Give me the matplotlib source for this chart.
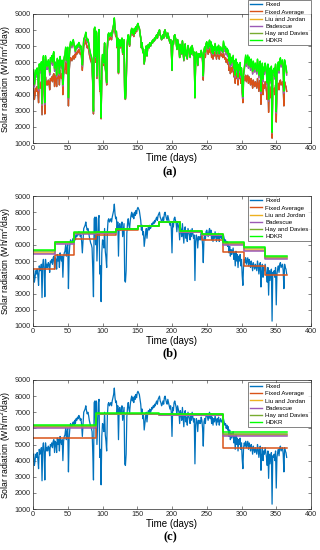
import matplotlib
matplotlib.use("Agg")
import matplotlib.pyplot as plt
import numpy as np

plt.rcParams['font.family'] = ['Liberation Sans', 'DejaVu Sans']

# daily radiation on the fixed surface (Wh/m2/day)
fixed = [
    4400, 3700, 4000, 4400, 4200, 4500, 4100, 3500, 4700, 4400,
    4500, 4800, 2750, 4800, 5100, 4500, 2800, 5100, 4600, 4800,
    4600, 4900, 4800, 4300, 5000, 4900, 5100, 4800, 5200, 5300,
    4500, 5200, 5100, 4500, 5400, 5000, 5300, 4600, 5500, 5200,
    5000, 5300, 4000, 5200, 5500, 5600, 6000, 5300, 5800, 6000,
    3300, 5400, 6000, 6300, 6200, 6100, 6300, 6400, 6200, 6500,
    6300, 6600, 6500, 6700, 6600, 6800, 6700, 6500, 6600, 6200,
    5500, 6300, 7000, 7100, 7200, 7400, 7100, 6900, 7000, 6800,
    6500, 6300, 6100, 6000, 5800, 4500, 2800, 7600, 7700, 6000,
    7700, 5000, 6300, 7600, 7800, 4200, 4700, 2500, 5500, 6300,
    6200, 5800, 7000, 5600, 5200, 4600, 6800, 7500, 7600, 7400,
    7500, 7600, 7400, 7700, 7900, 8100, 8500, 7900, 7600, 7700,
    6900, 7400, 5300, 7200, 7300, 6900, 7100, 7400, 6500, 6900,
    7300, 3800, 3700, 4400, 6700, 7300, 7600, 7200, 7000, 7500,
    7800, 8000, 7700, 7900, 7600, 8000, 7800, 8100, 7900, 8200,
    8300, 8200, 8100, 7800, 7500, 6900, 7200, 6600, 6800, 5900,
    6300, 6700, 7000, 6400, 6900, 7100, 6900, 7200, 7000, 7100,
    7300, 7200, 7400, 7300, 7500, 7400, 7600, 7700, 7500, 7800,
    7900, 8000, 7700, 7600, 7400, 7500, 7700, 7500, 7900, 8000,
    7800, 7600, 7500, 7800, 7600, 7400, 7200, 7400, 7000, 5500,
    7300, 7100, 7600, 7700, 7500, 7300, 6800, 7400, 7200, 7000,
    6300, 7100, 6900, 6500, 7300, 6700, 6100, 6900, 7100, 6400,
    6700, 6200, 7000, 6800, 6600, 6300, 6900, 6500, 7000, 6700,
    6400, 6600, 3800, 6200, 6600, 6400, 5800, 6500, 6300, 6500,
    6300, 6700, 6500, 6000, 4900, 6400, 6600, 6300, 6800, 6900,
    6700, 6500, 6800, 7000, 6600, 6900, 6300, 6700, 6200, 6600,
    6400, 6800, 6500, 6200, 6600, 6400, 6700, 6200, 6500, 6600,
    6400, 6500, 6300, 6600, 6400, 6200, 6300, 6000, 6200, 5900,
    6100, 5500, 5900, 5300, 5700, 5400, 5600, 5800, 5100, 5500,
    4700, 5600, 5000, 5400, 4600, 5300, 5000, 5400, 4700, 5100,
    4100, 3500, 4800, 5100, 4900, 5200, 4800, 5000, 5200, 4700,
    5100, 4900, 4600, 5000, 4800, 4400, 4900, 4700, 4500, 4800,
    4600, 4400, 5000, 4700, 4200, 4700, 4900, 3400, 4300, 4800,
    4000, 4600, 4400, 4800, 4500, 4200, 3700, 4600, 2900, 4400,
    3800, 4300, 4500, 1300, 4300, 4200, 4400, 4000, 4600, 2300,
    4200, 4500, 4700, 4300, 4800, 4900, 4600, 4700, 4800, 4400,
    3300, 4800, 4600, 4500, 4200,
]
days = np.arange(1, len(fixed) + 1)

# monthly adjusted tilt (panel b)
month_edges = [0, 31, 59, 90, 120, 151, 181, 212, 243, 273, 304, 334, 365]
m_fixavg = [4500, 5350, 6360, 6570, 6900, 7150, 7400, 6780, 6320, 5540, 4710, 4130]
m_liu    = [5500, 6100, 6700, 6740, 6990, 7150, 7400, 6800, 6620, 6020, 5700, 5180]
m_bad    = [5450, 6050, 6670, 6730, 6980, 7150, 7400, 6790, 6600, 5970, 5640, 5120]
m_hay    = [5600, 6150, 6740, 6760, 6990, 7160, 7410, 6820, 6650, 6110, 5800, 5250]
m_hdkr   = [5660, 6200, 6770, 6770, 7000, 7170, 7420, 6830, 6670, 6150, 5850, 5300]

# seasonal adjusted tilt (panel c)
season_edges = [0, 91, 182, 273, 365]
s_fixavg = [5400, 6880, 6830, 4780]
s_liu    = [6100, 6910, 6860, 5600]
s_bad    = [6030, 6900, 6850, 5530]
s_hay    = [6130, 6920, 6870, 5680]
s_hdkr   = [6180, 6930, 6880, 5750]

labels = ['Fixed', 'Fixed Average', 'Liu and Jordan', 'Badescue', 'Hay and Davies', 'HDKR']
colors = ['#0072BD', '#D95319', '#EDB120', '#9B59B6', '#77AC30', '#00FF00']

fig = plt.figure(figsize=(3.2, 5.5), dpi=100)

axes_pos = [
    [33/320, 1 - 143/550, 278/320, 129/550],
    [33/320, 1 - 326/550, 278/320, 130/550],
    [33/320, 1 - 509/550, 278/320, 129/550],
]
leg_top = [1.108, 1.0, 0.985]
tags = ['(a)', '(b)', '(c)']


def month_of(d, edges):
    for i in range(len(edges) - 1):
        if d <= edges[i + 1]:
            return i
    return len(edges) - 2


def stairs(ax, edges, vals, c, lw):
    ax.step(edges, list(vals) + [vals[-1]], where='post', color=c, lw=lw)


for k in range(3):
    ax = fig.add_axes(axes_pos[k])
    if k == 0:
        # daily optimum: daily fixed value scaled by monthly gain of each model
        idx = [month_of(d, month_edges) for d in days]
        f = np.array(fixed, dtype=float)
        base = np.array([m_fixavg[i] for i in idx])
        ax.plot(days, f, color=colors[0], lw=0.9)
        ax.plot(days, f, color=colors[1], lw=1.0)
        for m, c in zip([m_liu, m_bad, m_hay, m_hdkr], colors[2:]):
            g = np.array([m[i] for i in idx]) / base
            ax.plot(days, f * g, color=c, lw=1.0)
    else:
        edges = month_edges if k == 1 else season_edges
        sets = [m_fixavg, m_liu, m_bad, m_hay, m_hdkr] if k == 1 else \
               [s_fixavg, s_liu, s_bad, s_hay, s_hdkr]
        ax.plot(days, fixed, color=colors[0], lw=0.9)
        for v, c in zip(sets, colors[1:]):
            stairs(ax, edges, v, c, 1.1)

    ax.set_xlim(0, 400)
    ax.set_ylim(1000, 9000)
    ax.set_xticks(np.arange(0, 401, 50))
    ax.set_yticks(np.arange(1000, 9001, 1000))
    ax.tick_params(direction='in', length=2, width=0.4, labelsize=5.2,
                   top=True, right=True, pad=1.5, colors='#262626')
    for s in ax.spines.values():
        s.set_linewidth(0.5)
        s.set_color('#262626')
    ax.set_xlabel('Time (days)', fontsize=7, labelpad=1)
    ax.set_ylabel('Solar radiation (Wh/m$^2$/day)', fontsize=6.2, labelpad=1)

    handles = [plt.Line2D([], [], color=c, lw=1.0) for c in colors]
    leg = ax.legend(handles, labels, loc='upper right', bbox_to_anchor=(1.0, leg_top[k]),
                    fontsize=4.4, frameon=True, fancybox=False, borderpad=0.35,
                    labelspacing=0.3, handlelength=2.0, handletextpad=0.5,
                    borderaxespad=0)
    leg.get_frame().set_edgecolor('#262626')
    leg.get_frame().set_linewidth(0.5)

    tag_y = [172, 353, 537][k]
    fig.text(170/320, 1 - tag_y/550, tags[k], ha='center', va='center',
             fontsize=9, fontweight='bold', family='Liberation Serif')

fig.savefig('out.png', dpi=100)
